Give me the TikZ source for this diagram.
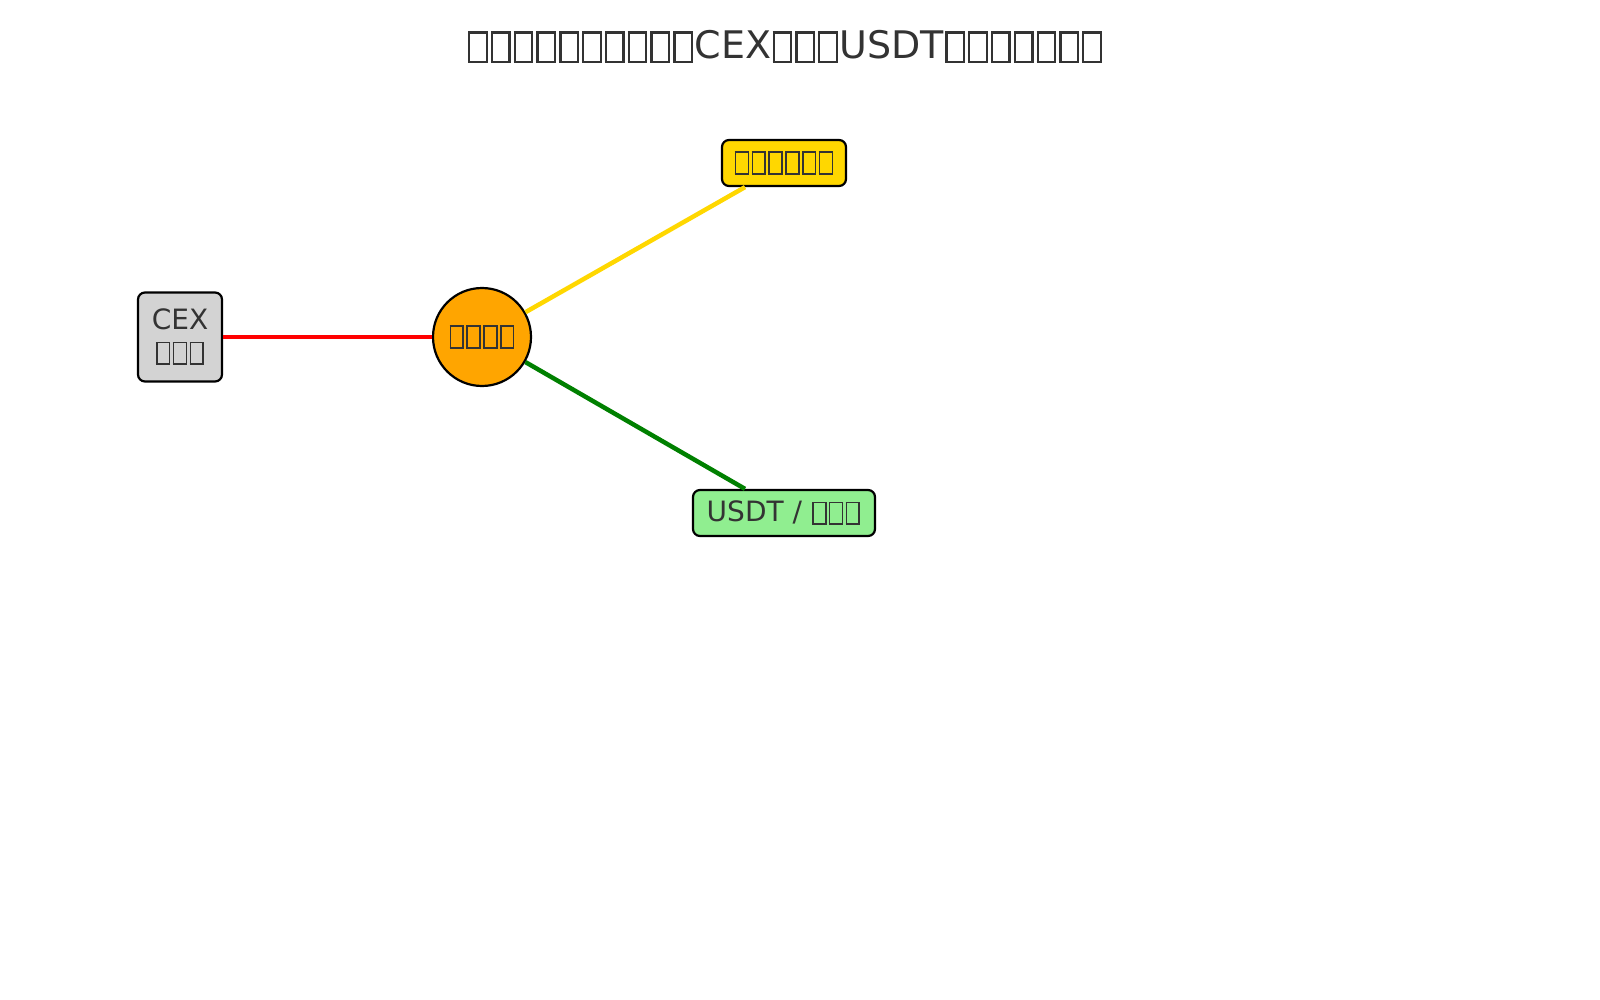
\documentclass[tikz,border=0pt]{standalone}
\usepackage{fontspec}
\setmainfont{DejaVu Sans}
\newcommand\tofu{\kern.04em\raisebox{-.06em}{\fboxsep=0pt\fboxrule=.06em\fbox{\rule{0pt}{.72em}\hspace{.4em}}}\kern.04em}
\newcommand\tofus[1]{\foreach\i in {1,...,#1}{\tofu}}
\definecolor{txt}{HTML}{333333}
\definecolor{cexg}{HTML}{D3D3D3}
\definecolor{orng}{HTML}{FFA500}
\definecolor{gold}{HTML}{FFD700}
\definecolor{lgreen}{HTML}{90EE90}
\definecolor{dgreen}{HTML}{008000}
\tikzset{
 box/.style={draw=black,line width=2.2pt,rounded corners=7pt,text=txt,font=\fontsize{28}{32}\selectfont,inner sep=0pt,align=center},
 edge/.style={line width=4.5pt}
}
\begin{document}
\begin{tikzpicture}[x=1pt,y=-1pt]
\useasboundingbox (0,0) rectangle (1600,1000);
\node[text=txt,font=\fontsize{38}{44}\selectfont] (title) at (785,47) {\tofus{10}CEX\tofus{3}USDT\tofus{7}};
\node[box,fill=cexg,minimum width=84pt,minimum height=89pt] (cex) at (180,337) {CEX\\\tofus{3}};
\node[draw=black,line width=2.2pt,circle,fill=orng,minimum size=98pt,inner sep=0pt,text=txt,font=\fontsize{28}{32}\selectfont] (hub) at (482,337) {\tofus{4}};
\node[box,fill=gold,minimum width=124pt,minimum height=46pt] (ybox) at (784,163) {\tofus{6}};
\node[box,fill=lgreen,minimum width=182pt,minimum height=46pt] (gbox) at (784,513) {USDT / \tofus{3}};
\begin{scope}[on background layer/.try]
\end{scope}
\draw[edge,red] (cex) -- (hub);
\draw[edge,gold] (hub) -- (ybox.south west -| 745,0);
\draw[edge,dgreen] (hub) -- (gbox.north west -| 745,0);
\end{tikzpicture}
\end{document}
